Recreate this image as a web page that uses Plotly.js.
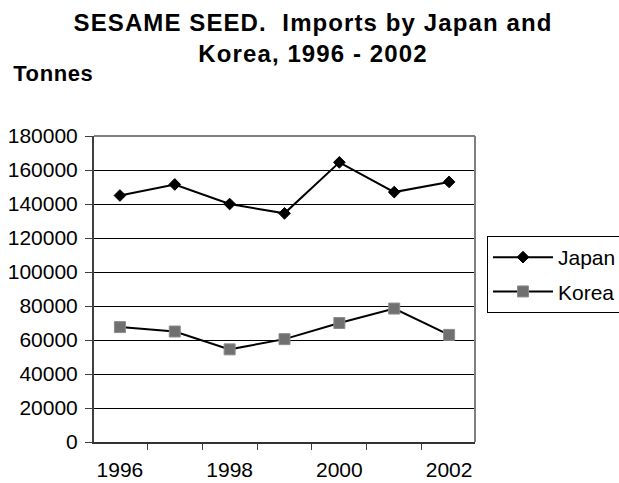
<!DOCTYPE html>
<html>
<head>
<meta charset="utf-8">
<script src="https://cdn.plot.ly/plotly-3.0.1.min.js"></script>
<style>
html,body{margin:0;padding:0;background:#fff;}
#chart{width:619px;height:483px;}
#chart .gtitle{letter-spacing:1.1px;}
#chart .annotation-text{letter-spacing:0.6px;}
</style>
</head>
<body>
<div id="chart"></div>
<script>
var years = ['1996','1997','1998','1999','2000','2001','2002'];
var tickLabels = ['1996','','1998','','2000','','2002'];
var japan = [145000, 151500, 140000, 134500, 164500, 147000, 153000];
var korea = [67600, 65000, 54500, 60500, 70000, 78500, 63000];
var yTicks = [0,20000,40000,60000,80000,100000,120000,140000,160000,180000];

var FONT = 'Liberation Sans, Arial, sans-serif';

var traces = [
  {
    x: years, y: japan, name: 'Japan', type: 'scatter', mode: 'lines+markers',
    legendgroup: 'j',
    line: {color: '#000000', width: 2},
    marker: {symbol: 'diamond', size: 9, color: '#000000', line: {color: '#000000', width: 1}}
  },
  {
    x: years, y: korea, name: 'Korea', type: 'scatter', mode: 'lines+markers',
    legendgroup: 'k',
    line: {color: '#000000', width: 2},
    marker: {symbol: 'square', size: 11, color: '#707070', line: {color: '#8c8c8c', width: 1}}
  }
];

var layout = {
  width: 619, height: 483,
  margin: {l: 94, r: 144, t: 136, b: 41, pad: 0, autoexpand: false},
  paper_bgcolor: '#ffffff', plot_bgcolor: '#ffffff',
  font: {family: FONT, size: 21, color: '#000000'},
  title: {
    text: '<b>SESAME SEED.  Imports by Japan and<br>Korea, 1996 - 2002</b>',
    font: {family: FONT, size: 24, color: '#000000'},
    x: 313/619, xanchor: 'center', xref: 'container',
    y: 1 - 31/483, yanchor: 'top', yref: 'container'
  },
  xaxis: {
    type: 'category',
    tickvals: years, ticktext: tickLabels,
    tickson: 'boundaries', tickangle: 0,
    ticks: 'outside', ticklen: 6, tickwidth: 1, tickcolor: '#404040',
    ticklabelstandoff: 8,
    showgrid: false, zeroline: false,
    showline: true, linecolor: '#333333', linewidth: 2,
    tickfont: {family: FONT, size: 21, color: '#000000'},
    fixedrange: true
  },
  yaxis: {
    range: [0, 180000], tickvals: yTicks,
    ticks: 'outside', ticklen: 7, tickwidth: 1, tickcolor: '#404040',
    ticklabelstandoff: 3,
    showgrid: true, gridcolor: '#000000', gridwidth: 1,
    zeroline: false,
    showline: true, linecolor: '#404040', linewidth: 2,
    tickfont: {family: FONT, size: 21, color: '#000000'},
    tickformat: 'd',
    fixedrange: true
  },
  legend: {
    x: (487-94)/381, xanchor: 'left', xref: 'paper',
    y: (442-236)/306, yanchor: 'top', yref: 'paper',
    bordercolor: '#000000', borderwidth: 1, bgcolor: '#ffffff',
    font: {family: FONT, size: 21, color: '#000000'},
    tracegroupgap: 4, itemwidth: 60
  },
  shapes: [
    {type: 'line', xref: 'paper', yref: 'paper', x0: 0, x1: 1, y0: 1, y1: 1, line: {color: '#808080', width: 2}, layer: 'above'},
    {type: 'line', xref: 'paper', yref: 'paper', x0: 1, x1: 1, y0: 0, y1: 1, line: {color: '#808080', width: 2}, layer: 'above'}
  ],
  annotations: [
    {
      text: '<b>Tonnes</b>', xref: 'paper', yref: 'paper',
      x: (13-94)/381, xanchor: 'left', y: (442-73.7)/306, yanchor: 'middle',
      showarrow: false, font: {family: FONT, size: 22, color: '#000000'}
    }
  ],
  showlegend: true
};

Plotly.newPlot('chart', traces, layout, {displayModeBar: false, staticPlot: true});
</script>
</body>
</html>
